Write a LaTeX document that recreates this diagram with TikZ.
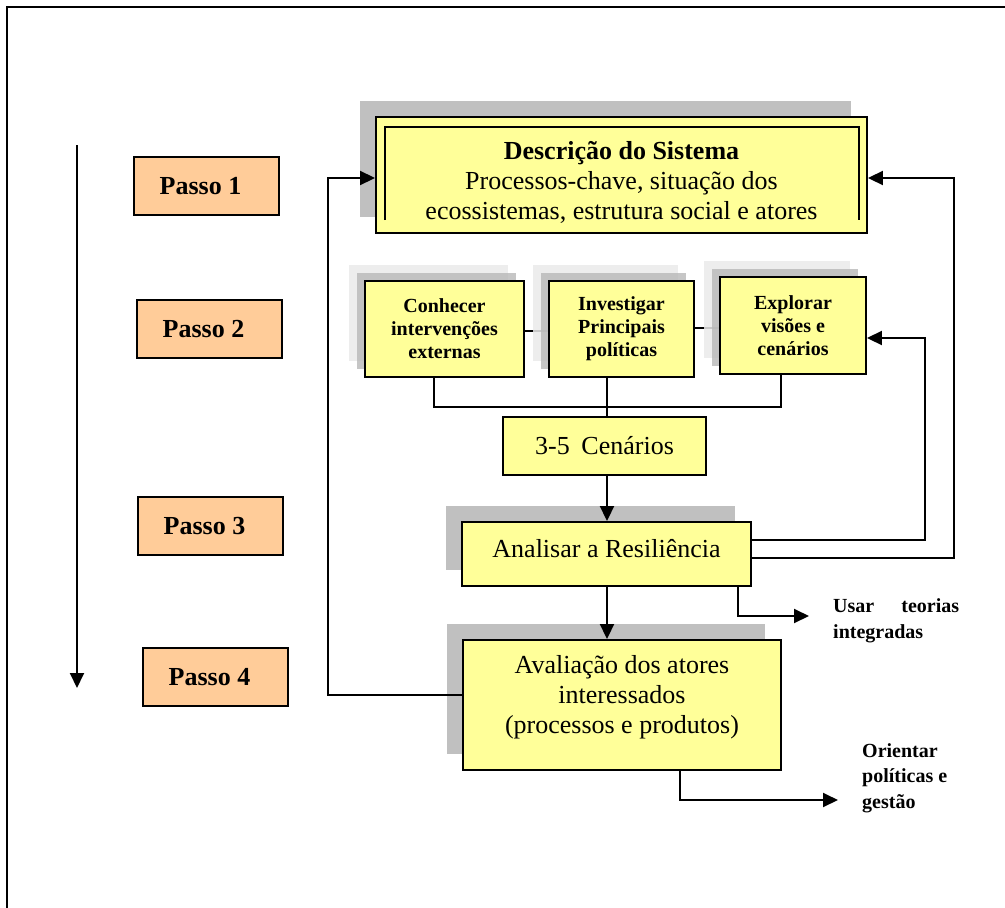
\documentclass[tikz,border=0pt]{standalone}
\usepackage{fontspec}
\setmainfont{Liberation Serif}
\usetikzlibrary{arrows.meta,shadows,backgrounds,calc}
\definecolor{boxyellow}{HTML}{FFFF99}
\definecolor{peach}{HTML}{FFCC99}
\definecolor{shmain}{HTML}{C0C0C0}
\definecolor{shlight}{HTML}{EAEAEA}
\definecolor{shdark}{HTML}{B8B8B8}
\begin{document}
\begin{tikzpicture}[x=1pt,y=-1pt,
  lw/.style={line width=1.9pt},
  ybox/.style={draw,lw,fill=boxyellow,inner sep=0pt,align=center},
  pbox/.style={draw,lw,fill=peach,minimum width=145pt,minimum height=58pt,inner sep=0pt,font=\fontsize{26}{28}\selectfont\bfseries},
  bigshadow/.style={drop shadow={shadow xshift=-16pt,shadow yshift=16pt,fill=shmain,opacity=1}},
  twoshadow/.style={drop shadow={shadow xshift=-16pt,shadow yshift=16pt,fill=shlight,opacity=0.85},drop shadow={shadow xshift=-8pt,shadow yshift=8pt,fill=shdark,opacity=0.8}},
  bigtext/.style={font=\fontsize{26}{30}\selectfont,inner sep=0pt},
  smallbold/.style={font=\fontsize{20}{23}\selectfont\bfseries},
  sidebold/.style={font=\fontsize{20}{25.5}\selectfont\bfseries,inner sep=0pt},
  conn/.style={lw},
  arr/.style={lw,-{Triangle[length=15pt,width=14pt]}},
]
\useasboundingbox (0,0) rectangle (1005,908);
% outer frame
\draw[line width=1.6pt] (7,920) -- (7,7) -- (1015,7);

% step labels
\node[pbox] (p1) at (206.5,186) {\hspace*{-12pt}Passo 1};
\node[pbox] (p2) at (209.5,329) {\hspace*{-12pt}Passo 2};
\node[pbox] (p3) at (210.5,526) {\hspace*{-12pt}Passo 3};
\node[pbox] (p4) at (215.5,677) {\hspace*{-12pt}Passo 4};

% left downward arrow
\coordinate (ltop) at (77,145);
\coordinate (lbot) at (77,688);
\draw[arr] (ltop) -- (lbot);

% step 1
\node[ybox,bigshadow,minimum width=491pt,minimum height=116pt] (desc) at (621.5,175) {};
\draw[lw] ([shift={(10,104)}]desc.north west) -- ([shift={(10,11)}]desc.north west) -- ([shift={(-9,11)}]desc.north east) -- ([shift={(-9,104)}]desc.north east);
\node[bigtext,align=center] (desct) at (621.5,182) {\textbf{Descrição do Sistema}\\Processos-chave, situação dos\\ecossistemas, estrutura social e atores};

% step 2
\node[ybox,twoshadow,smallbold,minimum width=159pt,minimum height=96pt] (con) at (444.5,329) {Conhecer\\intervenções\\externas};
\node[ybox,twoshadow,smallbold,minimum width=145pt,minimum height=96pt] (inv) at (621.5,329) {Investigar\\Principais\\políticas};
\node[ybox,twoshadow,smallbold,minimum width=146pt,minimum height=97pt] (exp) at (793,325.5) {Explorar\\visões e\\cenários};
\begin{scope}[on background layer]
\draw[conn] ([yshift=-2pt]con.east) -- ([yshift=-2pt]inv.west);
\draw[conn] ([yshift=1pt]inv.east) -- ([yshift=1pt]inv.east -| exp.west);
\end{scope}
\draw[conn] ([xshift=-10.5pt]con.south) -- ++(0,29) -| ([xshift=-12pt]exp.south);

% scenarios
\node[ybox,bigtext,minimum width=203pt,minimum height=58pt] (cen) at (604.5,446) {3-5\hspace{0.45em}Cenários};
\draw[conn] ([xshift=-14.5pt]inv.south) -- ([xshift=-14.5pt]inv.south |- cen.north);

% step 3
\node[ybox,bigshadow,minimum width=289pt,minimum height=64pt] (ana) at (606.5,554) {};
\node[bigtext] (anat) at (606.5,549) {Analisar a Resiliência};

% step 4
\node[ybox,bigshadow,minimum width=318pt,minimum height=130pt] (ava) at (622,705) {};
\node[bigtext,align=center] (avat) at (622,697) {Avaliação dos atores\\interessados\\(processos e produtos)};

% vertical arrows
\coordinate (vx) at (607,0);
\draw[arr] (cen.south -| vx) -- (ana.north -| vx);
\draw[arr] (ana.south -| vx) -- (ava.north -| vx);

% feedback loops on the right
\coordinate (r1) at (925,0);
\coordinate (r2) at (954,0);
\coordinate (e1) at ([yshift=-12.5pt]exp.east);
\coordinate (d1) at ([yshift=-3pt]desc.east);
\draw[arr] ([yshift=14pt]ana.east) -| (r1 |- e1) -- (e1);
\draw[arr] ([yshift=-4pt]ana.east) -| (r2 |- d1) -- (d1);

% feedback loop on the left
\coordinate (l1) at (328,0);
\coordinate (d2) at ([yshift=-3pt]desc.west);
\draw[arr] ([yshift=10pt]ava.west) -| (l1 |- d2) -- (d2);

% outputs
\coordinate (ux) at (738,0);
\coordinate (uend) at (809,616);
\draw[arr] (ana.south -| ux) |- (uend);
\node[sidebold,anchor=west,align=left] (usar) at (833,621) {\makebox[126pt][s]{Usar teorias}\\integradas};

\coordinate (ox) at (680,0);
\coordinate (oend) at (838,800);
\draw[arr] (ava.south -| ox) |- (oend);
\node[sidebold,anchor=west,align=left] (ori) at (862,778) {Orientar\\políticas e\\gestão};
\end{tikzpicture}
\end{document}
